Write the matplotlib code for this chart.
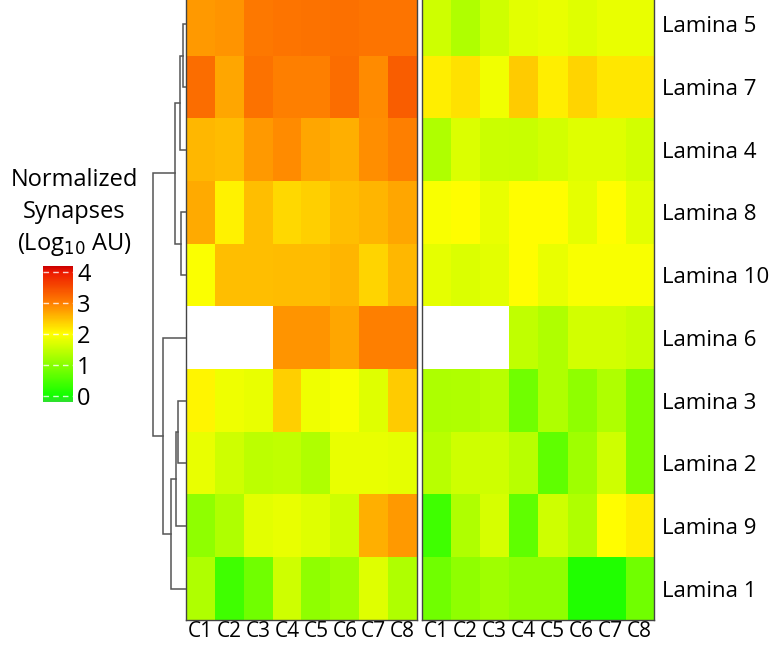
import numpy as np
import matplotlib
matplotlib.use("Agg")
from matplotlib import pyplot as plt
from matplotlib.colors import LinearSegmentedColormap

# rows as ordered by the clustering (top to bottom)
laminae = ["Lamina 5", "Lamina 7", "Lamina 4", "Lamina 8", "Lamina 10",
           "Lamina 6", "Lamina 3", "Lamina 2", "Lamina 9", "Lamina 1"]
columns = ["C1", "C2", "C3", "C4", "C5", "C6", "C7", "C8"]

nan = np.nan
left_vals = [
    [2.80, 2.83, 3.07, 3.10, 3.12, 3.15, 3.10, 3.10],
    [3.17, 2.70, 3.12, 3.00, 3.00, 3.17, 2.90, 3.33],
    [2.56, 2.53, 2.80, 2.90, 2.70, 2.63, 2.88, 3.00],
    [2.67, 2.10, 2.50, 2.30, 2.37, 2.50, 2.58, 2.70],
    [1.97, 2.50, 2.50, 2.53, 2.53, 2.58, 2.33, 2.56],
    [nan, nan, nan, 2.83, 2.83, 2.70, 3.00, 3.00],
    [2.08, 1.87, 1.82, 2.37, 1.87, 1.95, 1.73, 2.40],
    [1.82, 1.60, 1.45, 1.47, 1.33, 1.82, 1.82, 1.79],
    [1.07, 1.33, 1.76, 1.82, 1.73, 1.60, 2.62, 2.80],
    [1.33, 0.40, 0.80, 1.60, 1.07, 1.20, 1.73, 1.33],
]
right_vals = [
    [1.60, 1.33, 1.60, 1.76, 1.82, 1.73, 1.82, 1.82],
    [2.13, 2.24, 1.88, 2.40, 2.13, 2.33, 2.18, 2.18],
    [1.33, 1.70, 1.57, 1.54, 1.63, 1.73, 1.73, 1.63],
    [1.95, 2.00, 1.82, 2.00, 2.00, 1.79, 2.00, 1.76],
    [1.79, 1.70, 1.76, 2.00, 1.82, 1.95, 1.95, 1.95],
    [nan, nan, nan, 1.47, 1.33, 1.63, 1.63, 1.54],
    [1.32, 1.33, 1.41, 0.80, 1.33, 1.07, 1.33, 0.93],
    [1.41, 1.60, 1.60, 1.41, 0.67, 1.20, 1.60, 0.93],
    [0.40, 1.33, 1.66, 0.67, 1.60, 1.33, 2.00, 2.13],
    [0.80, 1.07, 1.20, 1.07, 1.07, 0.13, 0.13, 0.80],
]

# dendrogram merges: (child a, child b, height); new nodes numbered from 10
merges = [(0, 1, 3), (10, 2, 6), (3, 4, 5), (11, 12, 11), (6, 7, 8),
          (14, 8, 10), (15, 9, 15), (5, 16, 23), (13, 17, 33)]

vmin, vmax = -0.2, 4.2
nodes = [(-0.2, "#2ee02e"), (0.0, "#11ff00"), (2.0, "#ffff00"),
         (3.0, "#ff8000"), (4.0, "#ee1a00"), (4.2, "#cc0000")]
cmap = LinearSegmentedColormap.from_list(
    "gyr", [((v - vmin) / (vmax - vmin), c) for v, c in nodes])

W, H = 775, 656
fig = plt.figure(figsize=(W / 100, H / 100), dpi=100)


def px_axes(x0, y0, x1, y1):
    return fig.add_axes([x0 / W, 1 - y1 / H, (x1 - x0) / W, (y1 - y0) / H])


top, bottom = -7, 620
ax_l = px_axes(186, top, 417, bottom)
ax_r = px_axes(422, top, 654, bottom)

for ax, vals in [(ax_l, left_vals), (ax_r, right_vals)]:
    im = ax.imshow(np.array(vals), cmap=cmap, vmin=vmin, vmax=vmax,
                   aspect="auto", interpolation="nearest")
    ax.set_xticks(range(len(columns)))
    ax.set_xticklabels(columns, fontsize=15, family="Open Sans")
    ax.tick_params(axis="x", length=0, pad=1)
    ax.set_yticks([])
    for s in ax.spines.values():
        s.set_color("#444444")
        s.set_linewidth(1.0)

ax_r.yaxis.tick_right()
ax_r.set_yticks(range(len(laminae)))
ax_r.set_yticklabels(laminae, fontsize=16, family="Open Sans")
ax_r.tick_params(axis="y", length=0, pad=6)

# dendrogram
ax_d = px_axes(150, top, 186, bottom)
pos = {i: float(i) for i in range(len(laminae))}
hgt = {i: 0.0 for i in range(len(laminae))}
for k, (a, b, h) in enumerate(merges):
    ax_d.plot([hgt[a], h, h, hgt[b]], [pos[a], pos[a], pos[b], pos[b]],
              color="#555555", lw=1.1, solid_joinstyle="miter")
    node = len(laminae) + k
    pos[node] = (pos[a] + pos[b]) / 2
    hgt[node] = h
ax_d.set_xlim(36, 0)
ax_d.set_ylim(len(laminae) - 0.5, -0.5)
ax_d.axis("off")

# colour key
cax = px_axes(43, 266, 73, 402)
cb = fig.colorbar(im, cax=cax)
cb.outline.set_visible(False)
cb.set_ticks([0, 1, 2, 3, 4])
cax.tick_params(length=0, labelsize=17, pad=3)
for lbl in cax.get_yticklabels():
    lbl.set_family("Open Sans")
for t in [0, 1, 2, 3, 4]:
    cax.axhline(t, color="white", lw=1, ls=(0, (4, 3)), alpha=0.8)

key_lines = ["Normalized", "Synapses", r"(Log$_{10}$ AU)"]
for i, line in enumerate(key_lines):
    fig.text(74 / W, 1 - (180 + 32 * i) / H, line, ha="center", va="center",
             fontsize=17, family="Open Sans")

fig.savefig("out.png", dpi=100)
